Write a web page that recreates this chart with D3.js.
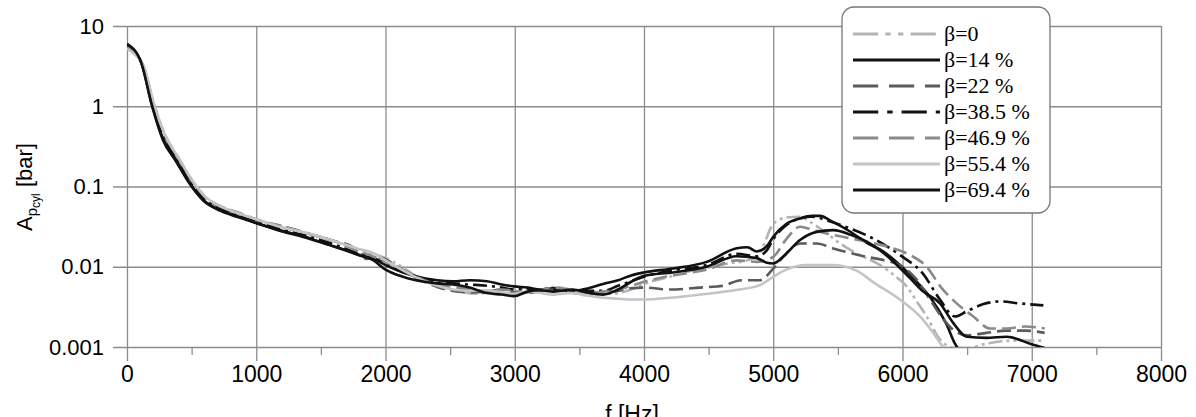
<!DOCTYPE html>
<html>
<head>
	<meta charset="utf-8">
	<title>D3</title>
	<script type="text/javascript" src="https://d3js.org/d3.v7.min.js"></script>
	<style>
		body { margin: 0; background: #fff; }
		.tick text { font-family: "Liberation Sans", Arial, sans-serif; fill: #000; }
	</style>
</head>

<body>
	<div id="chart"></div>
	<script>
	// series labels, in legend order
	var labels = ["β=0", "β=14 %", "β=22 %", "β=38.5 %", "β=46.9 %", "β=55.4 %", "β=69.4 %"];

	// [f (Hz), amplitude (bar)]
	var beta0 = [[0,5.3],[130,3.0],[210,1.05],[300,0.42],[400,0.225],[500,0.122],[600,0.076],[700,0.059],[850,0.047],[1000,0.039],[1200,0.031],[1400,0.026],[1600,0.021],[1750,0.017],[1900,0.0145],[2000,0.0128],[2135,0.0098],[2250,0.0074],[2400,0.0058],[2550,0.0050],[2700,0.0046],[2850,0.0050],[3000,0.0054],[3150,0.0050],[3300,0.0056],[3450,0.0052],[3600,0.0049],[3750,0.0046],[3900,0.0052],[4050,0.0065],[4200,0.0075],[4350,0.0088],[4500,0.0098],[4650,0.0110],[4780,0.0118],[4880,0.0135],[5000,0.034],[5100,0.041],[5200,0.042],[5300,0.035],[5413,0.026],[5517,0.0195],[5650,0.0145],[5826,0.0105],[5950,0.0075],[6032,0.0057],[6110,0.0037],[6187,0.0024],[6290,0.00125],[6400,0.00098],[6500,0.00097],[6650,0.0011],[6850,0.0012],[7100,0.0012]];
	var beta14 = [[0,5.9],[113,3.4],[190,1.08],[280,0.39],[384,0.21],[487,0.11],[590,0.068],[720,0.051],[850,0.043],[1000,0.035],[1200,0.028],[1364,0.024],[1550,0.019],[1700,0.016],[1800,0.014],[1900,0.0128],[2000,0.0105],[2135,0.0085],[2300,0.0072],[2400,0.0068],[2522,0.0066],[2650,0.0068],[2785,0.0066],[2900,0.0060],[2994,0.0057],[3100,0.0055],[3200,0.0052],[3300,0.0054],[3450,0.0050],[3550,0.0053],[3683,0.0061],[3800,0.0068],[3900,0.0078],[4000,0.0085],[4224,0.0095],[4485,0.0115],[4717,0.017],[4800,0.0175],[4872,0.0155],[4950,0.018],[5000,0.0236],[5100,0.034],[5207,0.040],[5300,0.043],[5362,0.043],[5450,0.037],[5594,0.0275],[5720,0.020],[5852,0.0155],[5980,0.0105],[6110,0.0065],[6213,0.0042],[6342,0.0019],[6406,0.0011],[6440,0.0009]];
	var beta22 = [[0,5.5],[125,3.2],[205,1.05],[295,0.41],[395,0.22],[495,0.118],[600,0.074],[700,0.058],[850,0.047],[1000,0.038],[1200,0.032],[1400,0.026],[1600,0.021],[1750,0.0175],[1820,0.0140],[1850,0.0125],[1950,0.0130],[2135,0.0090],[2300,0.0065],[2400,0.0056],[2522,0.0050],[2650,0.0048],[2785,0.0049],[2900,0.0052],[2994,0.0048],[3100,0.0047],[3200,0.0050],[3300,0.0052],[3450,0.0047],[3550,0.0046],[3683,0.0048],[3800,0.0050],[3900,0.0054],[4000,0.0055],[4200,0.0052],[4433,0.0055],[4613,0.0058],[4750,0.0068],[4897,0.0068],[5000,0.0095],[5077,0.0133],[5207,0.0195],[5336,0.0195],[5465,0.0169],[5723,0.0133],[5852,0.0121],[5980,0.0105],[6100,0.0072],[6200,0.0042],[6300,0.0024],[6400,0.0016],[6500,0.0014],[6650,0.0015],[6800,0.0016],[6950,0.0016],[7100,0.0015]];
	var beta38 = [[0,5.7],[118,3.3],[195,1.07],[285,0.40],[390,0.215],[490,0.113],[595,0.071],[710,0.054],[850,0.044],[1000,0.036],[1200,0.029],[1400,0.024],[1600,0.019],[1800,0.0145],[1900,0.013],[2000,0.011],[2135,0.0088],[2300,0.0070],[2400,0.0064],[2522,0.0062],[2650,0.0060],[2785,0.0058],[2900,0.0055],[2994,0.0052],[3100,0.0053],[3200,0.0050],[3300,0.0053],[3450,0.0049],[3550,0.0050],[3683,0.0050],[3800,0.0058],[3900,0.0066],[4000,0.0075],[4224,0.0090],[4485,0.0105],[4717,0.0145],[4872,0.0135],[4950,0.016],[5000,0.022],[5100,0.033],[5207,0.040],[5300,0.042],[5413,0.038],[5594,0.030],[5775,0.0224],[5980,0.014],[6158,0.0082],[6290,0.0039],[6406,0.0024],[6500,0.0028],[6620,0.0034],[6754,0.0037],[6900,0.0035],[7090,0.0033]];
	var beta46 = [[0,5.4],[130,3.05],[208,1.04],[300,0.42],[400,0.224],[500,0.12],[600,0.075],[700,0.059],[850,0.048],[1000,0.039],[1200,0.032],[1400,0.026],[1600,0.021],[1800,0.0155],[1900,0.0135],[2000,0.0115],[2135,0.0092],[2300,0.0068],[2400,0.0060],[2522,0.0056],[2650,0.0052],[2785,0.0050],[2900,0.0052],[2994,0.0050],[3100,0.0048],[3200,0.0051],[3300,0.0055],[3450,0.0050],[3550,0.0047],[3683,0.0049],[3800,0.0052],[3900,0.0058],[4000,0.0065],[4224,0.0078],[4485,0.0092],[4717,0.012],[4872,0.0115],[5000,0.0133],[5100,0.022],[5207,0.0315],[5300,0.029],[5413,0.026],[5723,0.0205],[5929,0.0169],[6058,0.014],[6187,0.010],[6300,0.0055],[6419,0.0035],[6548,0.0024],[6677,0.0017],[6806,0.0017],[6950,0.0018],[7100,0.0017]];
	var beta55 = [[0,5.2],[135,2.95],[212,1.02],[300,0.42],[400,0.225],[500,0.122],[600,0.076],[700,0.059],[850,0.047],[1000,0.039],[1200,0.031],[1400,0.026],[1600,0.021],[1800,0.0165],[1900,0.0150],[2000,0.0120],[2135,0.0090],[2300,0.0066],[2400,0.0058],[2522,0.0052],[2650,0.0050],[2785,0.0051],[2900,0.0048],[2994,0.0046],[3100,0.0049],[3200,0.0047],[3300,0.0045],[3450,0.0047],[3550,0.0044],[3683,0.0041],[3800,0.0040],[3900,0.0039],[4000,0.0039],[4200,0.0041],[4433,0.0045],[4700,0.0051],[4897,0.0059],[5000,0.0075],[5100,0.0092],[5258,0.0105],[5450,0.0105],[5640,0.0090],[5775,0.0064],[5980,0.0039],[6135,0.0024],[6238,0.0015],[6316,0.0010],[6360,0.0009]];
	var beta69 = [[0,6.0],[110,3.5],[188,1.1],[278,0.38],[380,0.205],[485,0.108],[590,0.067],[720,0.050],[850,0.042],[1000,0.035],[1200,0.0275],[1364,0.0235],[1550,0.019],[1700,0.0158],[1800,0.0138],[1900,0.0122],[2000,0.0092],[2135,0.0075],[2300,0.0065],[2400,0.0062],[2522,0.0060],[2650,0.0055],[2785,0.0047],[2900,0.0045],[2994,0.0043],[3100,0.0049],[3200,0.0051],[3300,0.0049],[3450,0.0052],[3550,0.0048],[3683,0.0045],[3800,0.0052],[3900,0.0065],[4000,0.0077],[4224,0.0085],[4485,0.0100],[4717,0.0135],[4872,0.0128],[4950,0.0112],[5000,0.0110],[5080,0.0135],[5207,0.0215],[5336,0.0272],[5465,0.0286],[5600,0.025],[5723,0.0205],[5903,0.0127],[6058,0.0072],[6161,0.0049],[6290,0.0035],[6392,0.0020],[6497,0.00134],[6650,0.0013],[6806,0.00134],[6987,0.0011],[7100,0.00097]];

	var xTicks = [0, 1000, 2000, 3000, 4000, 5000, 6000, 7000, 8000];
	var xMinor = [500, 1500, 2500, 3500, 4500, 5500, 6500, 7500];
	var yTicks = [0.001, 0.01, 0.1, 1, 10];
	var yTickLabels = ["0.001", "0.01", "0.1", "1", "10"];

	var series = [beta0, beta14, beta22, beta38, beta46, beta55, beta69];
	var colors = ["#b3b3ba", "#111111", "#5a5a60", "#111111", "#8a8a8e", "#c4c4c6", "#111111"];
	var dashes = ["14,4,3,4,3,4", null, "14,6", "14,5,3,5", "14,6", null, null];

	var width = 1196;
	var height = 417;
	// plot area edges (window.top is read-only, so no bare "top")
	var pLeft = 127, pRight = 1161, pTop = 26, pBottom = 347;

	var x = d3.scaleLinear().domain([0, 8000]).range([pLeft, pRight]);
	var y = d3.scaleLog().domain([0.001, 10]).range([pBottom, pTop]);

	var svg = d3.select("#chart")
				.append("svg")
					.attr("width", width)
					.attr("height", height)
					.style("display", "block");

	svg.append("defs").append("clipPath")
		.attr("id", "plot")
		.append("rect")
			.attr("x", pLeft)
			.attr("y", pTop - 2)
			.attr("width", pRight - pLeft)
			.attr("height", pBottom - pTop + 2);

	// horizontal grid + y labels
	var yAxis = svg.append("g")
		.attr("transform", "translate(113,0)")
		.call(d3.axisLeft(y)
			.tickValues(yTicks)
			.tickFormat(function(d, i){ return yTickLabels[i]; })
			.tickSize(-(pRight - 113))
			.tickPadding(9));
	yAxis.select(".domain").remove();
	yAxis.selectAll(".tick line").attr("stroke", "#8c8c8c").attr("stroke-width", 1.3);
	yAxis.selectAll(".tick text").style("font-size", "22px");

	// vertical grid + x labels
	var xAxis = svg.append("g")
		.attr("transform", "translate(0,361)")
		.call(d3.axisBottom(x)
			.tickValues(xTicks)
			.tickFormat(d3.format("d"))
			.tickSize(-(361 - pTop))
			.tickPadding(5));
	xAxis.select(".domain").remove();
	xAxis.selectAll(".tick line").attr("stroke", "#8c8c8c").attr("stroke-width", 1.3);
	xAxis.selectAll(".tick text").style("font-size", "23px");

	// small ticks between
	var minor = svg.append("g")
		.attr("transform", "translate(0," + pBottom + ")")
		.call(d3.axisBottom(x).tickValues(xMinor).tickFormat("").tickSize(8));
	minor.select(".domain").remove();
	minor.selectAll(".tick line").attr("stroke", "#8c8c8c").attr("stroke-width", 1.3);

	var line = d3.line()
		.x(function(d){ return x(d[0]); })
		.y(function(d){ return y(d[1]); })
		.curve(d3.curveMonotoneX);

	svg.append("g")
		.attr("clip-path", "url(#plot)")
		.selectAll("path")
		.data(series)
		.enter()
		.append("path")
			.attr("d", line)
			.attr("fill", "none")
			.attr("stroke", function(d, i){ return colors[i]; })
			.attr("stroke-width", 2.6)
			.attr("stroke-linejoin", "round")
			.attr("stroke-dasharray", function(d, i){ return dashes[i]; });

	// legend
	var legend = svg.append("g");
	legend.append("rect")
		.attr("x", 842).attr("y", 7)
		.attr("width", 208).attr("height", 206)
		.attr("rx", 12)
		.attr("fill", "#fff")
		.attr("stroke", "#777")
		.attr("stroke-width", 1.3);

	var rows = legend.selectAll(".row")
		.data(labels)
		.enter()
		.append("g")
		.attr("transform", function(d, i){ return "translate(0," + (34 + i * 26) + ")"; });

	rows.append("line")
		.attr("x1", 853).attr("x2", 940)
		.attr("stroke", function(d, i){ return colors[i]; })
		.attr("stroke-width", 2.8)
		.attr("stroke-dasharray", function(d, i){ return dashes[i] ? dashes[i].split(",").map(function(v){ return v * 1.8; }).join(",") : null; });

	rows.append("text")
		.attr("x", 944)
		.attr("y", 7)
		.style("font-family", "'Liberation Serif', 'Times New Roman', serif")
		.style("font-size", "22px")
		.text(function(d){ return d; });

	// axis titles
	var yTitle = svg.append("text")
		.attr("transform", "translate(32,187) rotate(-90)")
		.attr("text-anchor", "middle")
		.style("font-family", "'Liberation Sans', Arial, sans-serif")
		.style("font-size", "22px");
	yTitle.append("tspan").text("A");
	yTitle.append("tspan").attr("dy", 5).style("font-size", "15px").text("p");
	yTitle.append("tspan").attr("dy", 3).style("font-size", "12px").text("cyl");
	yTitle.append("tspan").attr("dy", -8).text(" [bar]");

	svg.append("text")
		.attr("x", 632)
		.attr("y", 422)
		.attr("text-anchor", "middle")
		.style("font-family", "'Liberation Sans', Arial, sans-serif")
		.style("font-size", "23px")
		.text("f [Hz]");
	</script>

</body>
</html>
